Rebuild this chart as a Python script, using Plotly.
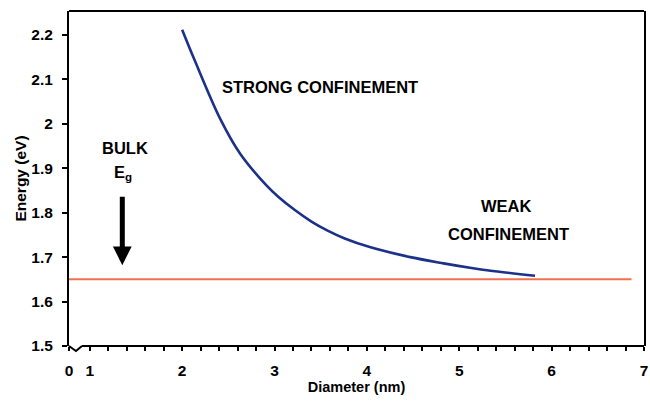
import plotly.graph_objects as go

# ---- data ----
diameter_nm = [2.00, 2.13, 2.415, 2.63, 2.91, 3.04, 3.22, 3.40, 3.58, 3.76, 4.04, 4.47, 4.83, 5.15, 5.32, 5.82]
energy_ev = [2.212, 2.146, 2.010, 1.932, 1.862, 1.836, 1.806, 1.780, 1.759, 1.742, 1.722, 1.700, 1.686, 1.675, 1.670, 1.658]

bulk_eg_x = [0.775, 6.865]
bulk_eg_y = [1.65, 1.65]

x_tick_vals = [0.775, 1, 2, 3, 4, 5, 6, 7]
x_tick_labels = ["0", "1", "2", "3", "4", "5", "6", "7"]
y_tick_vals = [1.5, 1.6, 1.7, 1.8, 1.9, 2.0, 2.1, 2.2]
y_tick_labels = ["1.5", "1.6", "1.7", "1.8", "1.9", "2", "2.1", "2.2"]

X_RANGE = [0.775, 7.0]
Y_RANGE = [1.5, 2.254]

FONT = "Arial, Liberation Sans, sans-serif"
TICK_SIZE = 15.5
TEXT_SIZE = 16.5

fig = go.Figure()
fig.add_trace(go.Scatter(x=bulk_eg_x, y=bulk_eg_y, mode="lines",
                         line=dict(color="#f0704f", width=2), showlegend=False))
fig.add_trace(go.Scatter(x=diameter_nm, y=energy_ev, mode="lines",
                         line=dict(color="#1c3188", width=2.6, shape="spline", smoothing=1.0),
                         showlegend=False))

# minor tick positions every 0.2
minor_vals = [round(1 + 0.2 * i, 2) for i in range(31)]
all_vals = [x_tick_vals[0]] + minor_vals
all_text = [x_tick_labels[0]] + [
    (x_tick_labels[x_tick_vals.index(v)] if v in x_tick_vals else "") for v in minor_vals
]

bold = lambda s: dict(family=FONT, size=s, color="black", weight="bold")

fig.update_layout(
    width=650, height=408,
    margin=dict(l=69, r=2, t=11, b=62),
    paper_bgcolor="white", plot_bgcolor="white",
    font=bold(TICK_SIZE),
    xaxis=dict(range=X_RANGE, showgrid=False, zeroline=False, showline=False,
               tickmode="array", tickvals=all_vals, ticktext=all_text,
               ticks="outside", ticklen=4, tickwidth=2, tickcolor="black",
               ticklabelstandoff=6, ticklabeloverflow="allow",
               tickfont=bold(TICK_SIZE),
               title=dict(text="Diameter (nm)", standoff=2, font=bold(14.5))),
    yaxis=dict(range=Y_RANGE, showgrid=False, zeroline=False, showline=True,
               linecolor="black", linewidth=2, mirror=True,
               tickmode="array", tickvals=y_tick_vals, ticktext=y_tick_labels,
               ticks="outside", ticklen=5, tickwidth=2, tickcolor="black",
               ticklabelstandoff=6, ticklabeloverflow="allow",
               tickfont=bold(TICK_SIZE),
               title=dict(text="Energy (eV)", standoff=1, font=bold(15.5))),
)

# frame: top border, bottom axis with break symbol
fig.add_shape(type="line", xref="paper", yref="paper", x0=0, x1=1, y0=1, y1=1,
              line=dict(color="black", width=2))
fig.add_shape(type="line", xref="paper", yref="paper", x0=0.0225, x1=1, y0=0, y1=0,
              line=dict(color="black", width=2))
fig.add_shape(type="path", xref="paper", yref="paper",
              path="M 0,0 L 0.0121,-0.0149 L 0.0225,0",
              line=dict(color="black", width=2))

# annotations
fig.add_annotation(x=3.49, y=2.084, text="STRONG CONFINEMENT", showarrow=False,
                   font=bold(TEXT_SIZE))
fig.add_annotation(x=5.505, y=1.814, text="WEAK", showarrow=False,
                   font=bold(TEXT_SIZE))
fig.add_annotation(x=5.534, y=1.752, text="CONFINEMENT", showarrow=False,
                   font=bold(TEXT_SIZE))
fig.add_annotation(x=1.376, y=1.946, text="BULK", showarrow=False,
                   font=bold(TEXT_SIZE))
fig.add_annotation(x=1.36, y=1.89, text="E<sub>g</sub>", showarrow=False,
                   font=bold(TEXT_SIZE))
fig.add_annotation(x=1.352, y=1.682, ax=0, ay=-70, text="", showarrow=True,
                   arrowhead=2, arrowsize=0.75, arrowwidth=5, arrowcolor="black",
                   standoff=0)

fig.write_html("out.html")
